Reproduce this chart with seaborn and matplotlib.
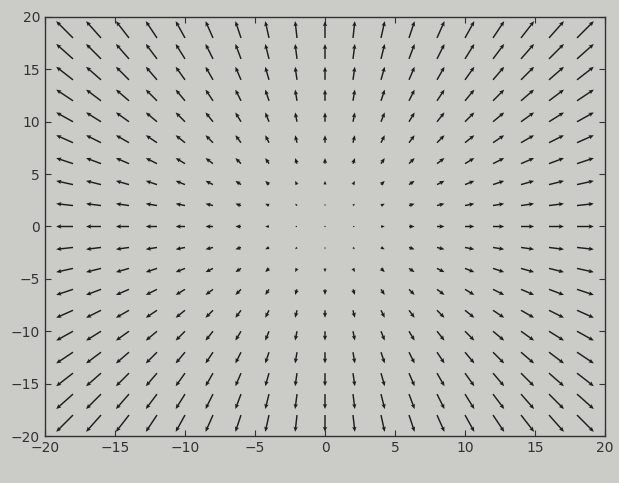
import numpy as np
import matplotlib
matplotlib.use("Agg")
import matplotlib.pyplot as plt
import seaborn as sns

# grid positions (every 2 units) and the vector components
x_pos = [-18, -16, -14, -12, -10, -8, -6, -4, -2, 0, 2, 4, 6, 8, 10, 12, 14, 16, 18]
y_pos = [-18, -16, -14, -12, -10, -8, -6, -4, -2, 0, 2, 4, 6, 8, 10, 12, 14, 16, 18]
u_by_col = [-18, -16, -14, -12, -10, -8, -6, -4, -2, 0, 2, 4, 6, 8, 10, 12, 14, 16, 18]
v_by_row = [-18, -16, -14, -12, -10, -8, -6, -4, -2, 0, 2, 4, 6, 8, 10, 12, 14, 16, 18]
ticks = [-20, -15, -10, -5, 0, 5, 10, 15, 20]

sns.set_style("ticks")
plt.rcParams['font.family'] = ['DejaVu Sans']
plt.rcParams['xtick.direction'] = 'in'
plt.rcParams['ytick.direction'] = 'in'

X, Y = np.meshgrid(x_pos, y_pos)
U, _ = np.meshgrid(u_by_col, v_by_row)
_, V = np.meshgrid(u_by_col, v_by_row)

bg = '#cbcbc7'
fig = plt.figure(figsize=(6.19, 4.83), dpi=100, facecolor=bg)
ax = fig.add_axes([45 / 619, 1 - 436 / 483, 560 / 619, 419 / 483])
ax.set_facecolor(bg)
ax.quiver(X, Y, U, V, color='#1e1e1e', scale=600, scale_units='width',
          width=0.0026, headwidth=3, headlength=3.5, headaxislength=3)
ax.set_xlim(-20, 20)
ax.set_ylim(-20, 20)
ax.set_xticks(ticks)
ax.set_yticks(ticks)
ax.tick_params(top=True, right=True, labelsize=10, colors='#333333', length=4)
for s in ax.spines.values():
    s.set_color('#333333')
    s.set_linewidth(1.0)
fig.savefig('out.png', dpi=100, facecolor=bg)
